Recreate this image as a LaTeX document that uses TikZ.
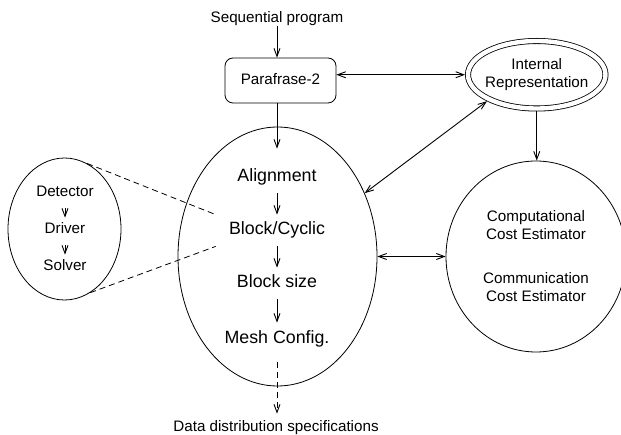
\documentclass[tikz,border=0pt]{standalone}
\usepackage{fontspec}
\setmainfont{Liberation Sans}
\usetikzlibrary{shapes.geometric,arrows.meta}

\begin{document}
\begin{tikzpicture}[x=1pt,y=1pt,line width=0.8pt,
	arr/.style={-{Straight Barb[length=8pt,width=6pt]},line width=0.9pt},
	dblarr/.style={{Straight Barb[length=8pt,width=6pt]}-{Straight Barb[length=8pt,width=6pt]},line width=0.9pt},
	lbl/.style={font=\fontsize{15.2}{18}\selectfont,text height=11pt,text depth=3pt,inner sep=0pt},
	stage/.style={font=\fontsize{17.8}{21}\selectfont,text height=13pt,text depth=4pt,inner ysep=7pt,inner xsep=13pt,anchor=base},
	substage/.style={lbl,text depth=6pt,inner ysep=5pt,anchor=base},
	oval/.style={draw,ellipse,inner sep=0pt},
	zoomline/.style={dash pattern=on 6pt off 4pt}]
			\useasboundingbox (0,0) rectangle (621,434);
			% input and front end
			\node[lbl,anchor=base] (seq) at (277,411) {Sequential program};
			\node[draw,rounded corners=8pt,minimum width=111pt,minimum height=45pt,lbl] (para) at (280.5,353.5) {Parafrase-2};
			\node[oval,double,double distance=4.4pt,outer sep=3pt,minimum width=137.5pt,minimum height=67.5pt,
				label={[font=\fontsize{15.2}{18}\selectfont,align=center]center:Internal\\Representation}] (ir) at (536.75,359.25) {};
			% distribution phases
			\node[oval,minimum width=199pt,minimum height=259pt] (dist) at (277.5,177.5) {};
			\node[stage] (al) at (277,252) {Alignment};
			\node[stage] (bc) at (277,199) {Block/Cyclic};
			\node[stage] (bs) at (277,146) {Block size};
			\node[stage] (mc) at (277,91) {Mesh Config.};
			\node[lbl,anchor=base,inner ysep=6pt] (data) at (276,3) {Data distribution specifications};
			% block/cyclic detail
			\node[oval,minimum width=113pt,minimum height=142pt] (sm) at (64.5,205) {};
			\node[substage] (det) at (65,237) {Detector};
			\node[substage] (drv) at (65,200) {Driver};
			\node[substage] (sol) at (65,163) {Solver};
			% estimators
			\node[oval,minimum width=180pt,minimum height=191pt,font=\fontsize{15.2}{18}\selectfont,align=center] (ce) at (536,177.5)
				{Computational\\Cost Estimator\\[26pt]Communication\\Cost Estimator};
			% connectors
			\draw[arr] (seq.south) -- (seq.south |- para.north);
			\draw[arr] (para.south -| al.north) -- ([yshift=13pt]al.north);
			\foreach \a/\b in {al/bc,bc/bs,bs/mc} \draw[arr] (\a.south) -- (\b.north);
			\foreach \a/\b in {det/drv,drv/sol} \draw[arr] (\a.south) -- (\b.north);
			\draw[arr,zoomline] ([yshift=-8pt]mc.south) -- (mc.south |- data.north);
			\draw[dblarr] (para.east |- ir.west) -- (ir.west);
			\draw[dblarr] (dist.36) -- (ir.208);
			\draw[dblarr] (dist.east) -- (ce.west);
			\draw[arr] (ir.south) -- (ir.south |- ce.north);
			\draw[zoomline] (sm.71) -- (bc.north west);
			\draw[zoomline] (sm.-68) -- (bc.south west);
		\end{tikzpicture}
\end{document}
